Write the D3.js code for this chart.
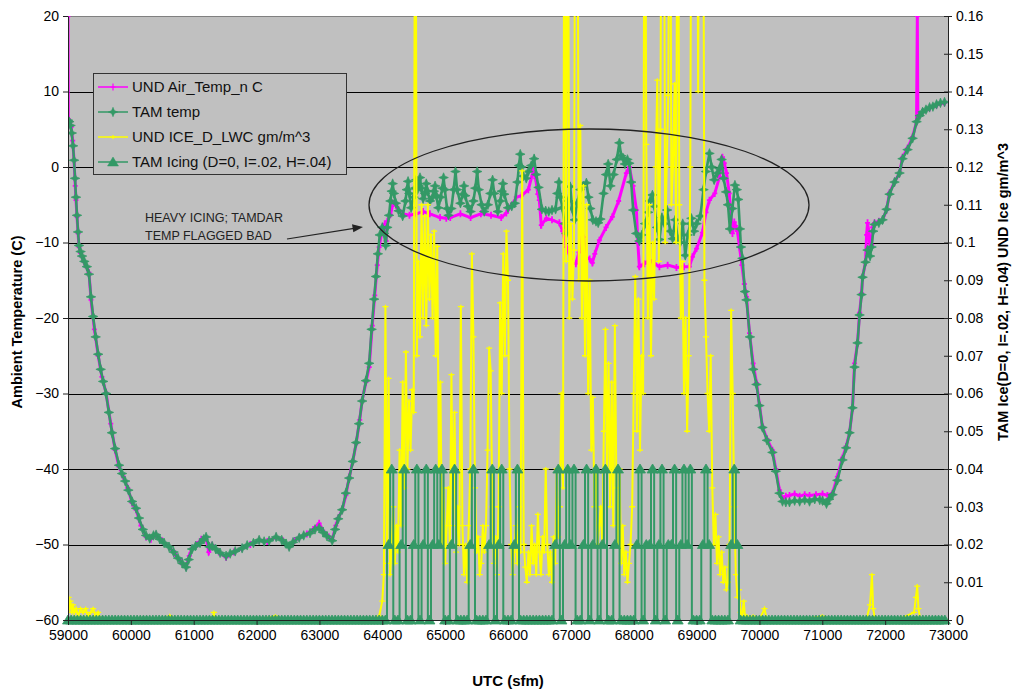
<!DOCTYPE html>
<html><head><meta charset="utf-8">
<script src="https://cdn.jsdelivr.net/npm/d3@7"></script>
<style>body{margin:0;background:#fff}svg{display:block}text{font-family:"Liberation Sans",Arial,sans-serif}</style>
</head><body><svg id="chart" width="1013" height="692"></svg>
<script>
// ---------------- DATA ----------------
const xTicks = [59000,60000,61000,62000,63000,64000,65000,66000,67000,68000,69000,70000,71000,72000,73000];
const yTicksLeft = [-60,-50,-40,-30,-20,-10,0,10,20];
const yTicksRight = [0,0.01,0.02,0.03,0.04,0.05,0.06,0.07,0.08,0.09,0.1,0.11,0.12,0.13,0.14,0.15,0.16];
const seriesNames = ["UND Air_Temp_n C","TAM temp","UND ICE_D_LWC gm/m^3","TAM Icing (D=0, I=.02, H=.04)"];

// UND Air_Temp_n C  [UTC sfm, deg C]
const undTemp = [[59000,20],[59005,6.3],[59030,6.0],[59050,5.3],[59075,3.5],[59096,0.9],[59115,-2.5],[59127,-4.4],[59143,-6.6],[59160,-8.8],[59175,-10.6],[59200,-11.4],[59223,-11.9],[59260,-12.6],[59300,-13.3],[59334,-14.0],[59366,-17.6],[59420,-21.5],[59480,-25.0],[59540,-27.8],[59605,-29.9],[59680,-34.0],[59750,-37.5],[59812,-39.7],[59880,-41.0],[59950,-42.5],[60020,-44.5],[60083,-45.4],[60160,-47.5],[60242,-49.0],[60320,-49.3],[60401,-48.7],[60500,-49.5],[60608,-50.3],[60700,-51.2],[60800,-52.3],[60879,-53.0],[60930,-51.5],[60974,-50.5],[61050,-50.0],[61120,-49.3],[61197,-49.1],[61240,-51.0],[61293,-50.1],[61400,-51.0],[61515,-51.7],[61640,-51.0],[61770,-50.5],[61900,-50.0],[62041,-49.4],[62170,-49.6],[62311,-49.0],[62420,-49.5],[62518,-50.3],[62600,-49.5],[62678,-49.1],[62800,-48.6],[62900,-48.0],[62996,-47.2],[63080,-48.5],[63150,-49.0],[63203,-49.4],[63260,-47.5],[63300,-46.5],[63362,-45.4],[63420,-43.5],[63474,-41.1],[63530,-39.0],[63585,-36.6],[63640,-33.5],[63680,-30.9],[63740,-28.5],[63792,-26.5],[63840,-21.0],[63880,-17.0],[63920,-13.0],[63950,-10.6],[64000,-8.3],[64040,-7.5],[64060,-9.8],[64080,-7.2],[64130,-6.3],[64173,-4.8],[64216,-5.1],[64324,-6.2],[64432,-6.4],[64540,-6.2],[64649,-5.9],[64757,-6.2],[64919,-6.7],[65018,-6.8],[65081,-6.7],[65243,-6.2],[65405,-6.7],[65568,-6.2],[65730,-6.4],[65892,-6.7],[65973,-6.1],[66054,-5.1],[66132,-4.0],[66216,-3.8],[66324,-3.0],[66400,-0.5],[66440,-1.5],[66475,-3.6],[66498,-4.4],[66530,-7.7],[66610,-6.8],[66700,-7.0],[66817,-7.4],[66870,-8.5],[66928,-10.6],[67024,-12.7],[67080,-12.8],[67130,-11.3],[67160,-9.5],[67200,-9.3],[67247,-12.0],[67300,-12.2],[67342,-12.7],[67380,-11.5],[67454,-9.7],[67560,-8.0],[67660,-6.6],[67760,-4.5],[67883,-0.8],[67931,0.0],[67990,-2.5],[68043,-5.7],[68065,-10.0],[68090,-13.2],[68170,-12.8],[68250,-12.3],[68330,-12.8],[68409,-13.2],[68540,-13.0],[68680,-13.3],[68800,-13.2],[68886,-13.2],[68934,-11.9],[69000,-10.8],[69093,-8.7],[69150,-6.0],[69205,-4.4],[69290,-3.5],[69364,-1.3],[69412,1.3],[69440,0.5],[69476,-0.8],[69520,-3.5],[69571,-8.8],[69600,-7.3],[69620,-7.8],[69650,-8.5],[69683,-10.6],[69720,-13.0],[69760,-15.5],[69794,-17.2],[69842,-22.0],[69900,-26.0],[69953,-28.6],[70000,-31.5],[70048,-34.4],[70120,-36.0],[70207,-37.5],[70260,-40.0],[70319,-42.8],[70367,-43.9],[70420,-43.6],[70478,-43.5],[70560,-43.3],[70640,-43.6],[70720,-43.4],[70797,-43.5],[70900,-43.4],[71004,-43.3],[71080,-43.5],[71163,-43.2],[71240,-41.0],[71322,-38.5],[71380,-37.0],[71434,-35.2],[71481,-31.9],[71513,-26.0],[71561,-23.3],[71593,-19.3],[71625,-16.7],[71641,-14.6],[71688,-12.6],[71705,-9.0],[71720,-7.4],[71740,-8.5],[71760,-10.8],[71784,-10.3],[71800,-8.0],[71831,-7.4],[71900,-7.2],[71959,-7.0],[72022,-5.7],[72070,-3.4],[72149,-2.0],[72229,-0.8],[72277,1.3],[72357,2.5],[72437,4.0],[72500,6.0],[72512,20],[72520,6.5],[72596,7.3],[72707,7.8],[72818,8.2],[72945,8.5]];

// TAM temp  [UTC sfm, deg C]
const tamTemp = [[59000,6.2],[59020,6.0],[59040,5.5],[59060,4.5],[59080,2.8],[59096,0.9],[59112,-1.5],[59127,-4.0],[59143,-6.4],[59160,-8.6],[59175,-10.4],[59200,-11.2],[59223,-11.8],[59260,-12.5],[59300,-13.2],[59334,-14.2],[59366,-17.2],[59400,-19.8],[59440,-22.5],[59480,-24.8],[59520,-26.8],[59560,-28.4],[59605,-30.0],[59650,-32.5],[59700,-35.2],[59750,-37.3],[59812,-39.5],[59860,-40.6],[59910,-41.6],[59960,-42.8],[60020,-44.3],[60083,-45.2],[60130,-46.5],[60190,-48.0],[60242,-48.8],[60300,-49.2],[60360,-48.8],[60401,-48.7],[60460,-49.3],[60530,-49.8],[60608,-50.3],[60680,-51.0],[60750,-51.8],[60820,-52.5],[60879,-53.0],[60920,-52.0],[60974,-50.6],[61030,-50.2],[61100,-49.8],[61160,-49.3],[61197,-49.0],[61250,-50.3],[61293,-50.2],[61350,-50.6],[61420,-51.1],[61515,-51.5],[61580,-51.2],[61660,-50.9],[61770,-50.5],[61850,-50.1],[61950,-49.8],[62041,-49.4],[62120,-49.6],[62200,-49.5],[62311,-49.0],[62400,-49.4],[62470,-49.9],[62518,-50.3],[62580,-49.7],[62678,-49.1],[62750,-48.8],[62850,-48.5],[62930,-48.0],[62996,-47.8],[63060,-48.4],[63120,-48.9],[63203,-49.5],[63250,-48.0],[63300,-46.6],[63362,-45.4],[63420,-43.2],[63474,-41.2],[63530,-39.0],[63585,-36.5],[63630,-34.0],[63680,-31.0],[63740,-28.3],[63792,-26.0],[63830,-21.5],[63870,-17.5],[63900,-14.5],[63930,-11.5],[63960,-9.0],[64000,-8.0],[64030,-8.8],[64054,-10.4],[64080,-8.0],[64108,-6.4],[64130,-4.5],[64150,-3.2],[64165,-2.2],[64185,-3.5],[64216,-4.8],[64260,-5.8],[64324,-6.5],[64370,-4.5],[64390,-3.0],[64410,-1.9],[64430,-3.5],[64459,-5.4],[64500,-4.0],[64520,-2.8],[64540,-1.7],[64560,-3.0],[64580,-2.5],[64600,-1.4],[64620,-2.8],[64650,-4.2],[64680,-3.5],[64700,-2.2],[64720,-3.2],[64760,-4.5],[64800,-4.0],[64820,-3.2],[64840,-2.5],[64860,-3.8],[64892,-5.4],[64930,-4.0],[64955,-2.8],[64975,-1.4],[64995,-3.0],[65030,-5.5],[65054,-6.4],[65100,-5.5],[65135,-3.0],[65165,-0.6],[65190,-3.0],[65243,-4.8],[65280,-3.6],[65300,-2.5],[65320,-3.8],[65360,-5.2],[65405,-5.9],[65450,-4.5],[65480,-2.8],[65510,-0.6],[65535,-3.0],[65580,-5.0],[65622,-5.9],[65680,-5.0],[65720,-3.5],[65755,-1.7],[65780,-3.5],[65838,-5.9],[65880,-4.5],[65900,-3.2],[65920,-2.2],[65940,-3.6],[66000,-5.4],[66060,-5.2],[66108,-4.8],[66150,-2.0],[66175,0.2],[66195,1.7],[66215,0.0],[66243,-1.2],[66290,-1.5],[66324,-0.6],[66370,0.2],[66415,1.1],[66450,-1.0],[66486,-2.7],[66540,-5.6],[66600,-5.8],[66649,-5.9],[66700,-5.7],[66757,-5.6],[66785,-3.5],[66811,-2.0],[66835,-4.0],[66865,-5.4],[66900,-7.5],[66930,-8.8],[66960,-4.5],[66990,-2.6],[67020,-5.5],[67060,-7.0],[67100,-4.8],[67150,-3.0],[67196,-2.5],[67247,-2.1],[67280,-4.0],[67310,-5.5],[67350,-7.0],[67400,-7.2],[67435,-7.4],[67470,-6.9],[67520,-3.5],[67560,-1.0],[67594,0.4],[67630,-2.5],[67680,-1.0],[67730,1.0],[67772,3.2],[67800,1.5],[67830,1.2],[67860,0.4],[67900,1.0],[67930,0.5],[67960,-2.0],[67992,-5.7],[68040,-8.8],[68090,-9.8],[68130,-9.0],[68180,-7.5],[68230,-6.0],[68260,-4.5],[68297,-3.7],[68330,-5.2],[68370,-8.0],[68410,-9.6],[68450,-6.7],[68490,-7.5],[68530,-5.7],[68580,-8.5],[68620,-9.5],[68660,-7.0],[68700,-9.5],[68740,-10.0],[68780,-7.5],[68820,-11.7],[68860,-9.0],[68900,-7.5],[68918,-6.8],[68960,-8.5],[69000,-7.5],[69060,-6.5],[69110,-3.0],[69150,-0.6],[69205,1.8],[69240,0.0],[69280,-1.7],[69330,-0.8],[69364,-0.2],[69398,1.0],[69430,-1.5],[69470,-3.3],[69500,-5.0],[69530,-8.2],[69570,-5.5],[69610,-2.4],[69640,-3.0],[69663,-4.3],[69690,-8.2],[69706,-10.6],[69730,-12.1],[69769,-16.5],[69794,-17.6],[69849,-22.5],[69902,-26.8],[69953,-28.8],[70000,-31.6],[70048,-34.5],[70120,-36.2],[70207,-37.8],[70260,-40.3],[70319,-43.2],[70367,-44.3],[70420,-44.4],[70478,-44.4],[70560,-44.2],[70640,-44.3],[70720,-44.1],[70797,-44.3],[70880,-44.0],[70960,-44.1],[71004,-44.2],[71067,-44.6],[71110,-44.0],[71163,-43.4],[71240,-41.5],[71322,-38.8],[71380,-37.2],[71434,-35.2],[71481,-31.9],[71513,-26.5],[71561,-23.3],[71593,-19.6],[71625,-16.9],[71641,-14.6],[71688,-12.6],[71720,-11.0],[71760,-11.8],[71784,-10.6],[71810,-8.5],[71831,-7.6],[71900,-7.4],[71959,-7.0],[72022,-5.6],[72070,-3.6],[72149,-2.0],[72229,-0.8],[72277,1.1],[72357,2.3],[72437,3.8],[72500,6.0],[72550,6.8],[72596,7.3],[72650,7.6],[72707,7.9],[72760,8.0],[72818,8.3],[72880,8.5],[72945,8.6]];

// UND ICE_D_LWC, in thousandths of gm/m^3 (values above 160 run off the top)
const lwcPre = [[59000,2],[59010,6],[59025,3],[59040,5],[59060,2],[59080,4],[59100,2],[59130,3],[59160,1],[59200,3],[59240,2],[59280,3],[59320,1],[59360,2],[59400,3],[59440,1],[59480,2],[59520,0],[60000,0],[60600,0],[60620,1],[60640,0],[61300,0],[61320,2],[61340,0],[62000,0],[62300,1],[62320,0],[63900,0],[63950,1]];
const lwcDenseStart = 64000, lwcDenseStep = 25;
const lwcDense = [
5,12,83,15,64,12,20,30,15,25,
18,45,25,63,35,71,40,58,45,61,
55,250,70,95,75,110,80,107,78,110,
85,102,80,103,70,99,40,63,20,35,
15,25,35,20,65,25,55,18,30,20,
83,25,12,20,10,25,40,97,75,35,
18,22,12,15,25,18,25,45,72,66,
30,15,22,12,30,84,60,97,70,103,
90,40,20,12,18,25,15,30,18,119,
20,14,10,18,12,25,15,20,12,28,
18,12,22,18,40,20,12,18,10,22,
15,40,22,30,60,35,250,95,250,80,
105,85,98,250,250,90,131,80,115,70,
110,60,90,45,59,30,40,20,25,30,
20,50,77,40,68,30,63,25,78,35,
20,40,15,25,12,18,10,15,20,30,
60,91,50,85,45,70,60,250,126,80,
110,70,100,85,120,143,95,130,250,250,
100,120,139,250,110,120,142,100,250,110,
80,95,60,80,50,70,120,250,250,250,
250,140,250,250,250,90,75,60,50,70,
35,20,28,15,22,12,18,10,14,8,
10,20,82,60,30,12,6,8,2,1,
5,0,1];
const lwcPost = [[69825,0],[69900,1],[70000,0],[70080,3],[70120,0],[70600,0],[71000,1],[71050,0],[71700,0],[71760,4],[71790,12],[71810,3],[71840,0],[72200,0],[72460,2],[72490,6],[72510,9],[72530,3],[72560,0],[72950,0]];

// TAM Icing level codes every 50 s from 59000 (0 = D, 1 = I, 2 = H)
const icingStart = 59000, icingStep = 50;
const icingLevels = [0, 0.02, 0.04];
const icingCodes = [
0,0,0,0,0,0,0,0,0,0, 0,0,0,0,0,0,0,0,0,0,
0,0,0,0,0,0,0,0,0,0, 0,0,0,0,0,0,0,0,0,0,
0,0,0,0,0,0,0,0,0,0, 0,0,0,0,0,0,0,0,0,0,
0,0,0,0,0,0,0,0,0,0, 0,0,0,0,0,0,0,0,0,0,
0,0,0,0,0,0,0,0,0,0, 0,0,0,0,0,0,0,0,0,0,
0,0,1,2,0,0,1,2,0,0, 1,2,0,1,2,0,1,2,1,2,
0,0,1,2,0,0,0,0,1,2, 0,0,0,0,1,2,0,1,2,0,
0,0,1,2,0,0,0,0,0,0, 0,0,0,0,0,1,2,0,1,2,
1,2,0,0,1,2,0,1,2,0, 1,2,0,0,1,2,0,0,0,0,
0,1,2,0,1,1,2,0,1,2, 0,1,1,2,0,1,2,1,2,0,
0,0,1,2,1,0,0,0,0,0, 0,1,2,1,0,0,0,0,0,0,
0,0,0,0,0,0,0,0,0,0, 0,0,0,0,0,0,0,0,0,0,
0,0,0,0,0,0,0,0,0,0, 0,0,0,0,0,0,0,0,0,0,
0,0,0,0,0,0,0,0,0,0, 0,0,0,0,0,0,0,0,0,0];

const noteLines = ["HEAVY ICING; TAMDAR","TEMP FLAGGED BAD"];

// ---------------- CHART ----------------
const W = 1013, H = 692;
const P = {l:68, r:948, t:16, b:620};
const MAG = "#FF00FF", GRN = "#339966", YEL = "#FFFF00", BG = "#C0C0C0";
const svg = d3.select("#chart");
const x = d3.scaleLinear().domain([59000,73000]).range([P.l,P.r]);
const yL = d3.scaleLinear().domain([-60,20]).range([P.b,P.t]);
const yR = d3.scaleLinear().domain([0,0.16]).range([P.b,P.t]);

svg.append("rect").attr("width",W).attr("height",H).attr("fill","#fff");
svg.append("rect").attr("x",P.l).attr("y",P.t).attr("width",P.r-P.l).attr("height",P.b-P.t).attr("fill",BG);
svg.append("defs").append("clipPath").attr("id","plotclip").append("rect")
  .attr("x",P.l).attr("y",P.t).attr("width",P.r-P.l).attr("height",P.b-P.t);

// gridlines
svg.append("g").selectAll("line").data(yTicksLeft.filter(v=>v>-60 && v<20)).join("line")
  .attr("x1",P.l).attr("x2",P.r).attr("y1",d=>Math.round(yL(d))+0.5).attr("y2",d=>Math.round(yL(d))+0.5)
  .attr("stroke","#000").attr("stroke-width",1);
svg.append("line").attr("x1",P.l).attr("x2",P.r).attr("y1",P.t+0.5).attr("y2",P.t+0.5).attr("stroke","#808080");

const plot = svg.append("g").attr("clip-path","url(#plotclip)");
const lineL = d3.line().x(d=>x(d[0])).y(d=>yL(d[1]));
const lineR = d3.line().x(d=>x(d[0])).y(d=>yR(d[1]));

const plusPath = "M-2.5,0H2.5M0,-3.5V3.5";
const starPath = "M0,-4.8L1.4,-1.4L4.8,0L1.4,1.4L0,4.8L-1.4,1.4L-4.8,0L-1.4,-1.4Z";
const triPath = "M0,-5L5.5,4L-5.5,4Z";
const yelMark = "M-3,0H3M0,-2V2";

// UND temperature
plot.append("path").datum(undTemp).attr("d",lineL).attr("fill","none").attr("stroke",MAG).attr("stroke-width",3);
plot.append("g").selectAll("path").data(undTemp).join("path").attr("d",plusPath)
  .attr("transform",d=>`translate(${x(d[0])},${yL(d[1])})`).attr("stroke",MAG).attr("stroke-width",1.8).attr("fill","none");

// TAM temperature
plot.append("path").datum(tamTemp).attr("d",lineL).attr("fill","none").attr("stroke",GRN).attr("stroke-width",2.6);
plot.append("g").selectAll("path").data(tamTemp).join("path").attr("d",starPath)
  .attr("transform",d=>`translate(${x(d[0])},${yL(d[1])})`).attr("fill",GRN).attr("stroke",GRN).attr("stroke-width",0.7);

// UND LWC
const lwc = lwcPre.concat(lwcDense.map((v,i)=>[lwcDenseStart+i*lwcDenseStep, v]), lwcPost).map(d=>[d[0], d[1]/1000]);
plot.append("path").datum(lwc).attr("d",lineR).attr("fill","none").attr("stroke",YEL).attr("stroke-width",2);
plot.append("g").selectAll("path").data(lwc).join("path").attr("d",yelMark)
  .attr("transform",d=>`translate(${x(d[0])},${yR(d[1])})`).attr("stroke",YEL).attr("stroke-width",1.3).attr("fill","none");

// TAM icing
const icing = icingCodes.map((c,i)=>[icingStart+i*icingStep, icingLevels[c]]);
svg.append("path").datum(icing).attr("d",lineR.curve(d3.curveStep)).attr("fill","none").attr("stroke",GRN).attr("stroke-width",2);
svg.append("g").selectAll("path").data(icing).join("path").attr("d",triPath)
  .attr("transform",d=>`translate(${x(d[0])},${yR(d[1])})`).attr("fill",GRN).attr("stroke",GRN).attr("stroke-width",0.8);

// axes
const fontTick = 14;
const axL = svg.append("g").attr("transform",`translate(${P.l},0)`)
  .call(d3.axisLeft(yL).tickValues(yTicksLeft).tickSize(5).tickSizeOuter(0).tickPadding(4));
const axB = svg.append("g").attr("transform",`translate(0,${P.b})`)
  .call(d3.axisBottom(x).tickValues(xTicks).tickFormat(d3.format("d")).tickSize(5).tickSizeOuter(0).tickPadding(5));
const axR = svg.append("g").attr("transform",`translate(${P.r},0)`)
  .call(d3.axisRight(yR).tickValues(yTicksRight).tickFormat(d=>String(+d.toFixed(2))).tickSize(4).tickSizeOuter(0).tickPadding(4));
axR.selectAll(".tick line").attr("x1",-4);
[axL,axB,axR].forEach(a=>{
  a.selectAll("text").attr("font-family","'Liberation Sans',Arial,sans-serif").attr("font-size",fontTick).attr("fill","#000");
  a.selectAll("line,path").attr("stroke","#222");
  a.attr("font-family",null);
});

// axis titles
svg.append("text").attr("transform","translate(22,322) rotate(-90)").attr("text-anchor","middle")
  .attr("font-weight","bold").attr("font-size",14.5).text("Ambient Temperature (C)");
svg.append("text").attr("transform","translate(1008,292) rotate(-90)").attr("text-anchor","middle")
  .attr("font-weight","bold").attr("font-size",14.5).text("TAM Ice(D=0, I=.02, H=.04) UND Ice gm/m^3");
svg.append("text").attr("x",508).attr("y",686).attr("text-anchor","middle")
  .attr("font-weight","bold").attr("font-size",15).text("UTC (sfm)");

// legend
const lg = svg.append("g");
lg.append("rect").attr("x",93.5).attr("y",73.5).attr("width",253).attr("height",101).attr("fill",BG).attr("stroke","#333").attr("stroke-width",1);
const legColors = [MAG, GRN, YEL, GRN];
const legMarks = [plusPath, starPath, yelMark, triPath];
seriesNames.forEach((name,i)=>{
  const yy = 87 + i*25;
  lg.append("line").attr("x1",98).attr("x2",128).attr("y1",yy).attr("y2",yy).attr("stroke",legColors[i]).attr("stroke-width",1.5);
  const mk = lg.append("path").attr("d",legMarks[i]).attr("transform",`translate(113,${yy})`);
  if (i===1 || i===3) mk.attr("fill",legColors[i]).attr("stroke",legColors[i]).attr("stroke-width",0.5);
  else mk.attr("fill","none").attr("stroke",legColors[i]).attr("stroke-width",1.2);
  lg.append("text").attr("x",132).attr("y",yy+5).attr("font-size",15).attr("fill","#111").text(name);
});

// annotation
svg.append("ellipse").attr("cx",589).attr("cy",205).attr("rx",220).attr("ry",76)
  .attr("fill","none").attr("stroke","#222").attr("stroke-width",1.3);
noteLines.forEach((t,i)=>{
  svg.append("text").attr("x",145).attr("y",222+i*18).attr("font-size",12.5).attr("fill","#222").text(t);
});
svg.append("line").attr("x1",287).attr("y1",239).attr("x2",354).attr("y2",228.3).attr("stroke","#222").attr("stroke-width",1.2);
svg.append("path").attr("d","M363,227 L352,224.3 L353.3,232.3 Z").attr("fill","#222");
</script></body></html>
